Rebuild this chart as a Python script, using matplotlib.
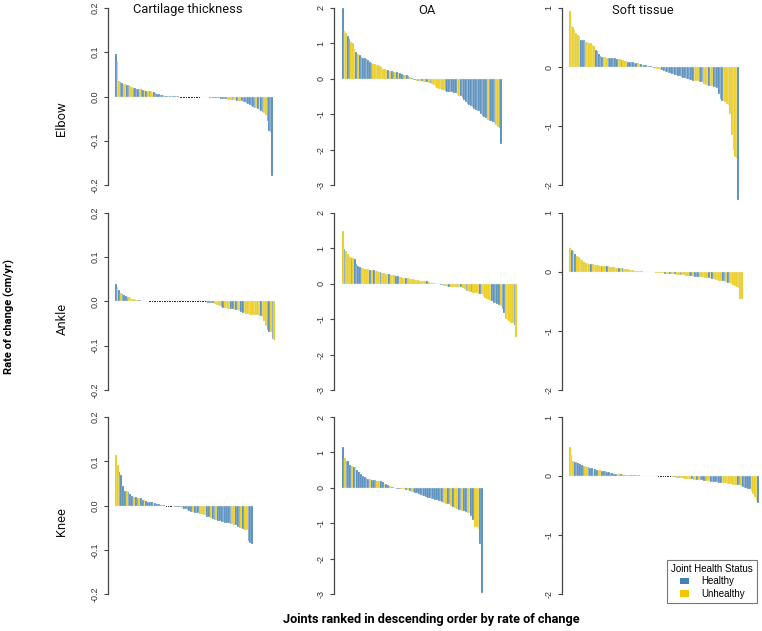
import numpy as np
import matplotlib
matplotlib.use("Agg")
import matplotlib.pyplot as plt
from matplotlib.patches import Patch

HEALTHY = "#4682B4"
UNHEALTHY = "#EEC900"

joints = ["Elbow", "Ankle", "Knee"]
measures = ["Cartilage thickness", "OA", "Soft tissue"]

# ---- Elbow ----
elbow_cart = [
    0.097, 0.077, 0.035, 0.033, 0.031, 0.029, 0.028, 0.027, 0.025, 0.023,
    0.021, 0.020, 0.019, 0.018, 0.017, 0.016, 0.016, 0.015, 0.014, 0.013,
    0.013, 0.012, 0.012, 0.011, 0.010, 0.008, 0.006, 0.005, 0.004, 0.003,
    0.003, 0.002, 0.002, 0.001, 0.001, 0.001, 0.0005, 0.0005, 0.0003, 0.0002,
    0, 0, 0, 0, 0, 0, 0, 0, 0, 0,
    0, 0, 0, -0.0005, -0.001, -0.001, -0.0015, -0.002, -0.002, -0.0025,
    -0.003, -0.003, -0.0035, -0.004, -0.004, -0.0045, -0.005, -0.005, -0.0055, -0.006,
    -0.007, -0.007, -0.008, -0.008, -0.009, -0.009, -0.010, -0.010, -0.011, -0.011,
    -0.012, -0.013, -0.015, -0.017, -0.019, -0.021, -0.023, -0.025, -0.027, -0.028,
    -0.030, -0.032, -0.035, -0.038, -0.042, -0.055, -0.078, -0.080, -0.180,
]
elbow_cart_status = ("HUUHHUUHHU" "UHHHHUHHUH" "UHUUHHHHHH" "UHHUHUHHUH" "HUHHHUHHHH"
                     "UHHHHHHHHH" "UHHHHHHHHH" "UUUHUUHUUH" "HHHHHHHHUH" "UHHUUHHHH")

elbow_oa = [
    2.00, 1.35, 1.30, 1.20, 1.12, 1.05, 1.00, 0.85, 0.76, 0.70,
    0.66, 0.62, 0.60, 0.58, 0.56, 0.52, 0.47, 0.45, 0.42, 0.41,
    0.40, 0.38, 0.35, 0.32, 0.28, 0.27, 0.26, 0.25, 0.22, 0.21,
    0.20, 0.19, 0.18, 0.17, 0.16, 0.14, 0.12, 0.12, 0.11, 0.08,
    0.05, 0.02, -0.02, -0.04, -0.05, -0.06, -0.06, -0.07, -0.08, -0.09,
    -0.10, -0.12, -0.13, -0.15, -0.18, -0.22, -0.25, -0.28, -0.30, -0.31,
    -0.33, -0.35, -0.36, -0.37, -0.37, -0.38, -0.39, -0.40, -0.45, -0.48,
    -0.50, -0.55, -0.60, -0.65, -0.70, -0.75, -0.78, -0.80, -0.85, -0.88,
    -0.90, -0.92, -1.00, -1.05, -1.08, -1.10, -1.15, -1.20, -1.20, -1.22,
    -1.25, -1.30, -1.35, -1.40, -1.85,
]
elbow_oa_status = ("HUUHHUUUHU" "HHHHHHHHUU" "UUUUUUUHUH" "HUHUHHHUHH" "UHHHUHUHUH"
                   "HUHUUUUUUU" "UHHHHHHHUU" "HHHHHHHHHH" "HHHHHHUHHH" "HUUHH")

elbow_soft = [
    0.95,
    0.70, 0.67, 0.63,
    0.58, 0.55, 0.52,
    0.46, 0.46, 0.45,
    0.43, 0.42, 0.41, 0.40, 0.38, 0.35,
    0.29, 0.27,
    0.22, 0.19, 0.17,
    0.17, 0.165, 0.16,
    0.155, 0.15, 0.15, 0.148, 0.145, 0.14,
    0.135, 0.13,
    0.12,
    0.12, 0.11, 0.10,
    0.09, 0.085, 0.08, 0.08, 0.075, 0.07,
    0.06, 0.05,
    0.045, 0.04, 0.035, 0.03, 0.02, 0.015, 0.01, 0.005,
    -0.01, -0.02,
    -0.03, -0.04, -0.045,
    -0.05, -0.06, -0.08, -0.09, -0.10, -0.11, -0.12, -0.12, -0.13, -0.14,
    -0.15, -0.16, -0.17, -0.18, -0.19, -0.20, -0.21, -0.22, -0.22, -0.23,
    -0.23, -0.24, -0.24,
    -0.25, -0.25, -0.26,
    -0.28, -0.30, -0.31,
    -0.32,
    -0.33, -0.33,
    -0.34, -0.34, -0.35, -0.45, -0.55, -0.57,
    -0.58, -0.60, -0.62, -0.65, -0.80, -1.15, -1.40, -1.52, -1.55,
    -2.25,
]
elbow_soft_status = ("U" "UUU" "UUU" "HHH" "UUUUUU" "HH" "HHH" "UUU" "HHHHHH" "UU" "H"
                     "UUU" "HHHHHH" "UU" "HUHHUHHH" "HH" "UUU" "HHHHHHHHHHHHHHHHHHHH"
                     "UUU" "HHH" "UUU" "H" "UU" "HHHHHH" "UUUUUUUUU" "H")

# ---- Ankle ----
ankle_cart = [
    0.040, 0.033, 0.025, 0.020, 0.017, 0.015, 0.013, 0.011, 0.010, 0.008,
    0.006, 0.005, 0.004, 0.004, 0.003, 0.003, 0.002, 0.002, 0.002, 0.001,
    0, 0, 0, 0, 0, 0, 0, 0, 0, 0,
    0, 0, 0, 0, 0, 0, 0, 0, 0, 0,
    0, 0, 0, 0, 0, 0, 0, 0, 0, 0,
    0, 0, 0, 0, 0,
    -0.002, -0.003, -0.003, -0.004, -0.004,
    -0.005, -0.007, -0.009, -0.011,
    -0.013, -0.014,
    -0.014, -0.015, -0.016, -0.017,
    -0.017, -0.018,
    -0.019,
    -0.020,
    -0.020, -0.021,
    -0.023,
    -0.025,
    -0.027, -0.028, -0.029, -0.030, -0.030,
    -0.030, -0.030, -0.031, -0.031, -0.032,
    -0.033,
    -0.035,
    -0.045, -0.055,
    -0.065, -0.068,
    -0.070,
    -0.085,
    -0.088,
]
ankle_cart_status = ("HUHUHHHHUU" "UUHUHHHHHH"
                     "HHHHHHHHHH" "HHHHHHHHHH" "HHHHHHHHHH" "HHHHH"
                     "HHHHH" "UUUU" "HH" "UUUU" "HH" "U" "H" "UU" "H" "H"
                     "UUUUU" "UUUUU" "H" "U" "UU" "HH" "U" "H" "U")

ankle_oa = [
    1.48, 0.97, 0.92, 0.85, 0.76, 0.73, 0.72, 0.71,
    0.55, 0.50, 0.47,
    0.45, 0.44, 0.43, 0.42, 0.41,
    0.40, 0.39, 0.38,
    0.37, 0.35, 0.33,
    0.32,
    0.31, 0.30, 0.29, 0.28,
    0.27,
    0.25, 0.24, 0.235,
    0.23, 0.22,
    0.20, 0.18, 0.17, 0.16,
    0.15,
    0.15, 0.14, 0.13, 0.13, 0.12, 0.11, 0.10, 0.09, 0.085, 0.08, 0.075,
    0.07,
    0.05, 0.03, 0.02, 0.01, 0.005, -0.005, -0.01,
    -0.02, -0.04,
    -0.05, -0.07, -0.08,
    -0.09,
    -0.095, -0.10, -0.10, -0.10, -0.10, -0.10,
    -0.10,
    -0.12, -0.15,
    -0.20,
    -0.21, -0.22,
    -0.22,
    -0.25, -0.26, -0.27, -0.28,
    -0.28,
    -0.30, -0.35, -0.40, -0.42,
    -0.47, -0.50,
    -0.50, -0.53, -0.55, -0.58, -0.60,
    -0.62,
    -0.70, -0.82,
    -1.00, -1.02, -1.05, -1.10, -1.12,
    -1.15,
    -1.50,
]
ankle_oa_status = ("U" "H" "U" "UU" "H" "U" "H" "HHH" "UUUUU" "H" "U" "H" "UUU" "H" "UUUU"
                   "H" "UUU" "HH" "UUUU" "H" "UUUUUUUUUUU" "H" "UUUUUUU" "HH" "UUU" "H"
                   "UUUUUU" "H" "UU" "H" "UU" "H" "UUUU" "H" "UUUU" "UU" "HHHHH" "U" "HH"
                   "UUUUU" "H" "U")

ankle_soft = [
    0.40, 0.38, 0.35, 0.30,
    0.27, 0.25, 0.22,
    0.20, 0.17, 0.15, 0.145, 0.14,
    0.135,
    0.13, 0.125, 0.12, 0.115, 0.11,
    0.11,
    0.105, 0.10,
    0.10,
    0.095, 0.09, 0.085, 0.08, 0.075, 0.07,
    0.07,
    0.065,
    0.06,
    0.055, 0.05, 0.045, 0.04, 0.035, 0.03, 0.025, 0.02, 0.015,
    0.012, 0.01, 0.008, 0.005, 0.003, -0.003, -0.005, -0.006, -0.008, -0.01, -0.012, -0.015,
    -0.02, -0.025, -0.028, -0.03, -0.032, -0.035, -0.037, -0.04, -0.042, -0.045, -0.047, -0.05,
    -0.052, -0.055, -0.06, -0.065,
    -0.07, -0.07, -0.075, -0.078, -0.08, -0.08, -0.085,
    -0.09, -0.09, -0.095, -0.10,
    -0.10, -0.11, -0.12,
    -0.12, -0.13, -0.14, -0.145, -0.15,
    -0.15, -0.16,
    -0.17,
    -0.18,
    -0.19, -0.20, -0.22, -0.24, -0.26, -0.27,
    -0.45, -0.46,
]
ankle_soft_status = ("UHUH" "UUU" "UUUUU" "H" "UUUUU" "H" "UU" "H" "UUUUUU" "H" "U" "H"
                     "UUUUUUUUU" "UUUUUHHUHUUU" "UUHUUHUUHUUH" "UUUU" "HHUHHHU" "UUUU"
                     "HUH" "UUUUU" "HH" "U" "H" "UUUUUU" "UU")

# ---- Knee ----
knee_cart = [
    0.115, 0.092,
    0.075, 0.070, 0.045,
    0.033, 0.032, 0.030,
    0.025, 0.022,
    0.020,
    0.019, 0.018,
    0.017, 0.016, 0.013, 0.012,
    0.010, 0.009, 0.008, 0.007,
    0.006,
    0.005, 0.004, 0.003, 0.002, 0.0015, 0.001,
    0, 0, 0, 0,
    -0.002, -0.003, -0.003, -0.004, -0.004,
    -0.005,
    -0.008, -0.009, -0.010, -0.013, -0.015,
    -0.015,
    -0.016, -0.017, -0.018,
    -0.020, -0.020, -0.021, -0.022,
    -0.025, -0.027,
    -0.028,
    -0.030, -0.032,
    -0.033,
    -0.035, -0.036, -0.037, -0.038, -0.039, -0.040, -0.040, -0.041,
    -0.042, -0.043,
    -0.045, -0.048, -0.050,
    -0.051,
    -0.053,
    -0.055, -0.055,
    -0.080, -0.085, -0.088,
]
knee_cart_status = ("UU" "HHH" "H" "U" "H" "HH" "U" "HH" "U" "H" "H" "U" "HHHH" "U"
                    "HHHHHH" "HHHH" "HHHHH" "U" "HHHHH" "U" "HHH" "UUUU" "HH" "U" "HH"
                    "U" "HHHHHHHH" "UU" "HHH" "U" "H" "UU" "HHH")

knee_oa = [
    1.15, 0.85, 0.77, 0.76, 0.65, 0.62, 0.60, 0.58,
    0.50, 0.45,
    0.38, 0.32, 0.30, 0.28, 0.25,
    0.24,
    0.23, 0.22, 0.21,
    0.20, 0.19,
    0.18, 0.16,
    0.12,
    0.10, 0.08,
    0.05,
    0.03, 0.01, -0.01, -0.02, -0.025,
    -0.03, -0.04, -0.045, -0.05, -0.06, -0.08,
    -0.12,
    -0.13, -0.14, -0.16, -0.18, -0.20, -0.22, -0.24, -0.26, -0.28,
    -0.30, -0.32, -0.33, -0.34, -0.35, -0.36, -0.38, -0.40,
    -0.42, -0.45,
    -0.45, -0.47,
    -0.50,
    -0.55,
    -0.58, -0.60,
    -0.62, -0.63,
    -0.65,
    -0.66, -0.67,
    -0.70, -0.72,
    -0.80,
    -0.90,
    -1.10, -1.12, -1.15,
    -1.58,
    -2.98,
]
knee_oa_status = ("H" "U" "HH" "H" "U" "H" "U" "HH" "HHHHH" "U" "HHH" "UU" "HH" "U" "HH"
                  "U" "HHHHH" "UUUHUH" "U" "HHHHHHHHHHHHHHHHH" "UU" "HH" "U" "H" "UU"
                  "HH" "U" "HH" "UU" "H" "H" "UUU" "H" "H")

knee_soft = [
    0.50, 0.35, 0.25,
    0.24, 0.23, 0.22, 0.21,
    0.19, 0.17,
    0.165, 0.16,
    0.15, 0.14, 0.13,
    0.12,
    0.115, 0.11,
    0.105, 0.10,
    0.09, 0.088, 0.08, 0.07, 0.06, 0.05, 0.045, 0.04, 0.035,
    0.032, 0.03,
    0.03, 0.028, 0.025, 0.022, 0.02, 0.02,
    0.018, 0.015, 0.013, 0.012, 0.011, 0.010,
    0.008, 0.007, 0.006, 0.005, 0.004, 0.004, 0.003, 0.002, 0.002, 0.001,
    0, 0, 0, 0, 0, 0, 0, 0,
    -0.015, -0.02,
    -0.025, -0.03, -0.032, -0.035, -0.038, -0.04, -0.045, -0.048,
    -0.05, -0.055, -0.058, -0.06, -0.06, -0.062, -0.065,
    -0.07, -0.075, -0.08, -0.085,
    -0.09, -0.09,
    -0.095, -0.10, -0.10,
    -0.105, -0.11, -0.115, -0.12,
    -0.12, -0.12, -0.125,
    -0.13, -0.135, -0.14, -0.145, -0.15, -0.15,
    -0.16, -0.16,
    -0.17,
    -0.19, -0.20, -0.21, -0.215, -0.22,
    -0.25, -0.30,
    -0.35, -0.42,
    -0.45,
]
knee_soft_status = ("UUU" "HHHH" "HH" "UU" "HHH" "U" "HH" "UU" "HHHHHHHHH" "UU" "HUHUHU"
                    "HUHUUH" "HHUHHUHHHH" "HHHHHHHH" "UU" "HUHUUHUU" "UUHUUHU" "HHHH"
                    "UU" "HHH" "HHHH" "UUU" "UUUUUU" "HH" "U" "HHHHH" "UU" "UU" "H")

values = [[elbow_cart, elbow_oa, elbow_soft],
          [ankle_cart, ankle_oa, ankle_soft],
          [knee_cart, knee_oa, knee_soft]]
status = [[elbow_cart_status, elbow_oa_status, elbow_soft_status],
          [ankle_cart_status, ankle_oa_status, ankle_soft_status],
          [knee_cart_status, knee_oa_status, knee_soft_status]]

y_ticks = [[-0.2, -0.1, 0.0, 0.1, 0.2], [-3, -2, -1, 0, 1, 2], [-2, -1, 0, 1]]
y_ticklabels = [["-0.2", "-0.1", "0.0", "0.1", "0.2"],
                ["-3", "-2", "-1", "0", "1", "2"],
                ["-2", "-1", "0", "1"]]

# ---- layout (pixels) ----
W, H = 762, 631
spine_x = [108, 334, 562]
bar_x0 = [115, 342, 569]
bar_x1 = [[273, 502, 739], [275, 517, 743], [253, 483, 759]]
tick_top = [8, 213, 417]
tick_bot = [185, 390, 594]
title_x = [188, 427, 643]
row_label_y = [119, 319, 522]

fig = plt.figure(figsize=(W / 100, H / 100), dpi=100)

for r in range(3):
    for c in range(3):
        v = np.array(values[r][c], dtype=float)
        s = status[r][c]
        cols = [HEALTHY if ch == "H" else UNHEALTHY for ch in s]
        lo, hi = y_ticks[c][0], y_ticks[c][-1]
        pad_px = 0.04 * (tick_bot[r] - tick_top[r])
        top = tick_top[r] - pad_px
        bot = tick_bot[r] + pad_px
        ax = fig.add_axes([bar_x0[c] / W, 1 - bot / H,
                           (bar_x1[r][c] - bar_x0[c]) / W, (bot - top) / H])
        x = np.arange(len(v))
        ax.bar(x, v, width=1.0, color=cols, edgecolor="#e8eef4", linewidth=0.25,
               clip_on=False)
        # zero-height bars only leave their border as a dot on the baseline
        z = v == 0
        ax.scatter(x[z], v[z], s=0.6, c="#111111", marker="o", linewidths=0, zorder=3)
        pad = 0.04 * (hi - lo)
        ax.set_ylim(lo - pad, hi + pad)
        ax.set_xlim(-0.5, len(v) - 0.5)
        for sp in ["top", "right", "bottom"]:
            ax.spines[sp].set_visible(False)
        ax.spines["left"].set_position(("outward", (bar_x0[c] - spine_x[c]) * 0.72))
        ax.spines["left"].set_bounds(lo, hi)
        ax.spines["left"].set_color("#444444")
        ax.spines["left"].set_linewidth(0.9)
        ax.set_xticks([])
        ax.set_yticks(y_ticks[c])
        ax.set_yticklabels(y_ticklabels[c], rotation=90, va="center",
                           fontsize=6.5, family="Liberation Sans", color="#333333")
        ax.tick_params(axis="y", length=3, width=0.8, color="#444444", pad=3)
        ax.patch.set_alpha(0)

for c in range(3):
    fig.text(title_x[c] / W, 1 - 10 / H, measures[c], ha="center", va="center",
             fontsize=9.3, family="Roboto", color="#111111")
for r in range(3):
    fig.text(62 / W, 1 - row_label_y[r] / H, joints[r], ha="center", va="center",
             rotation=90, fontsize=9.3, family="Roboto", color="#111111")

fig.text(9 / W, 1 - 316 / H, "Rate of change (cm/yr)", ha="center", va="center",
         rotation=90, fontsize=8, family="Roboto", weight="bold")
fig.text(431 / W, 1 - 620 / H, "Joints ranked in descending order by rate of change",
         ha="center", va="center", fontsize=9.2, family="Roboto", weight="bold")

handles = [Patch(facecolor=HEALTHY, label="Healthy"),
           Patch(facecolor=UNHEALTHY, label="Unhealthy")]
leg = fig.legend(handles=handles, title="Joint Health Status", loc="upper right",
                 bbox_to_anchor=(757 / W, 1 - 560 / H), frameon=True, fancybox=False,
                 prop={"family": "Liberation Sans", "size": 7},
                 title_fontproperties={"family": "Liberation Sans", "size": 7},
                 handlelength=1.0, handleheight=0.7, handletextpad=1.2,
                 borderpad=0.4, labelspacing=0.25, borderaxespad=0)
leg.get_frame().set_edgecolor("#555555")
leg.get_frame().set_linewidth(0.8)

fig.savefig("out.png", dpi=100)
